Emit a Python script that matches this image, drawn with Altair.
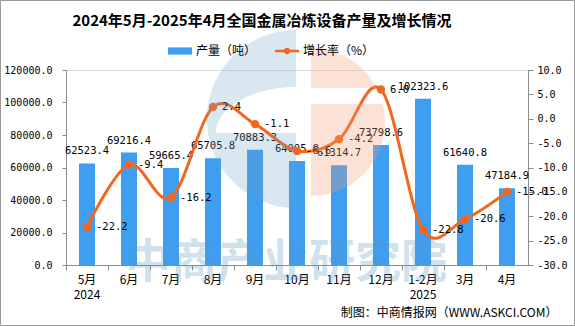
import altair as alt
import pandas as pd

categories = ["5月", "6月", "7月", "8月", "9月", "10月", "11月", "12月", "1-2月", "3月", "4月"]
production = [62523.4, 69216.4, 59665.4, 65705.8, 70883.3, 64005.9, 61314.7, 73798.6, 102323.6, 61640.8, 47184.9]
growth = [-22.2, -9.4, -16.2, 2.4, -1.1, -6.6, -4.2, 6.0, -22.8, -20.6, -15.0]

df = pd.DataFrame({
    "cat": categories,
    "prod": production,
    "rate": growth,
    "prod_label": [f"{v:.1f}" for v in production],
    "rate_label": [f"{v:.1f}" for v in growth],
    "s1": "产量（吨）",
    "s2": "增长率（%）",
})
deco = pd.DataFrame({"k": [0]})

BLUE = "#3f9ef0"
ORANGE = "#f4661f"
GRAY = "#8c8c8c"
MONO = "DejaVu Sans Mono"
CJK = "Noto Sans CJK SC"

W, H = 462, 195
PL, PT = 66, 70

x_enc = alt.X(
    "cat:N", sort=categories,
    scale=alt.Scale(paddingInner=0, paddingOuter=0),
    axis=alt.Axis(
        title="制图：中商情报网（WWW.ASKCI.COM）",
        titleFont=CJK, titleFontSize=12, titleFontWeight="normal", titleColor="#000",
        titleAnchor="end", titleAlign="right", titleX=491, titleY=47, titleBaseline="middle",
        labelAngle=0, labelFont=CJK, labelFontSize=12, labelColor="#000",
        labelExpr="datum.label == '5月' ? ['5月', '2024'] : datum.label == '1-2月' ? ['1-2月', '2025'] : datum.label",
        labelPadding=4, labelLineHeight=15,
        bandPosition=0, tickSize=5, tickColor=GRAY, domainColor=GRAY,
    ),
)

y_left = alt.Y(
    "prod:Q",
    scale=alt.Scale(domain=[0, 120000], nice=False),
    axis=alt.Axis(
        title=None, values=list(range(0, 120001, 20000)),
        labelExpr="format(datum.value, '.1f')",
        labelFont=MONO, labelFontSize=10, labelColor="#000", labelPadding=10,
        tickSize=4, tickColor=GRAY, domainColor=GRAY, grid=False,
    ),
)

y_right = alt.Y(
    "rate:Q",
    scale=alt.Scale(domain=[-30, 10], nice=False),
    axis=alt.Axis(
        title=None, orient="right", values=list(range(-30, 11, 5)),
        labelExpr="(datum.value < 0 ? '-' : '') + format(abs(datum.value), '.1f')",
        labelFont=MONO, labelFontSize=10, labelColor="#000", labelPadding=4,
        tickSize=5, tickColor=GRAY, domainColor=GRAY, grid=False,
    ),
)

bar_sym = "M-1,-0.3H1V0.3H-1Z"
line_sym = ("M-1,-0.1H1V0.1H-1Z M0.27,0 A0.27,0.27 0 1,1 -0.27,0 "
            "A0.27,0.27 0 1,1 0.27,0Z")

bars = alt.Chart(df).mark_bar(size=16).encode(
    x=x_enc, y=y_left,
    fill=alt.Fill("s1:N", scale=alt.Scale(range=[BLUE]),
                  legend=alt.Legend(title=None, orient="none", legendX=102, legendY=-31,
                                    symbolType=bar_sym, symbolSize=576, symbolStrokeWidth=0,
                                    labelFont=CJK, labelFontSize=12, labelColor="#000",
                                    labelOffset=4)),
)
bar_text = alt.Chart(df).mark_text(font=MONO, fontSize=10.5, color="#000", dy=-9, baseline="alphabetic").encode(
    x=x_enc, y=y_left, text="prod_label:N",
)

line = alt.Chart(df).mark_line(interpolate="cardinal", strokeWidth=3).encode(
    x=x_enc, y=y_right,
    stroke=alt.Stroke("s2:N", scale=alt.Scale(range=[ORANGE]),
                      legend=alt.Legend(title=None, orient="none", legendX=209, legendY=-31,
                                        symbolType=line_sym, symbolSize=576, symbolStrokeWidth=0,
                                        symbolFillColor=ORANGE,
                                        labelFont=CJK, labelFontSize=12, labelColor="#000",
                                        labelOffset=4)),
)
points = alt.Chart(df).mark_circle(size=70, color=ORANGE, opacity=1).encode(x=x_enc, y=y_right)
rate_text = alt.Chart(df).mark_text(font=MONO, fontSize=10.5, color="#000", align="left", dx=9, baseline="middle").encode(
    x=x_enc, y=y_right, text="rate_label:N",
)

# title and decorations (single-row data)
title = alt.Chart(deco).mark_text(
    text="2024年5月-2025年4月全国金属冶炼设备产量及增长情况",
    font=CJK, fontSize=15, fontWeight="bold", color="#000", align="center", baseline="middle",
).encode(x=alt.value(262 - PL), y=alt.value(21 - PT))

logo_blue = ("M-7,-89 A89,89 0 0,0 -7,89 L-7,14 L-87,14 "
             "C-87,-11.4 -51.2,-32 -7,-32 Z")
logo_orange = ("M8,-71 A74,74 0 0,1 73.7,-31 L8,-31 Z "
               "M8,-15 L79.8,-15 A74,74 0 0,1 8,77 Z")
wm_blue = alt.Chart(deco).mark_point(shape=logo_blue, size=4, filled=True, fill="#69a2c6",
                                     strokeWidth=0, fillOpacity=0.26).encode(
    x=alt.value(303 - PL), y=alt.value(119 - PT))
wm_orange = alt.Chart(deco).mark_point(shape=logo_orange, size=4, filled=True, fill="#f29b76",
                                       strokeWidth=0, fillOpacity=0.3).encode(
    x=alt.value(303 - PL), y=alt.value(119 - PT))
watermark = alt.Chart(deco).mark_text(
    text="中商产业研究院", font=CJK, fontSize=46, fontWeight="bold", color="#5b97c4",
    fillOpacity=0.3,
).encode(x=alt.value(220), y=alt.value(193))

border = alt.Chart(deco).mark_rect(fill=None, stroke="#999", strokeWidth=1).encode(
    x=alt.value(-PL + 0.5), x2=alt.value(575 - PL - 0.5),
    y=alt.value(-PT + 0.5), y2=alt.value(326 - PT - 0.5),
)

left = alt.layer(bars, bar_text)
right = alt.layer(line, points, rate_text)

chart = alt.layer(left, right, wm_blue, wm_orange, watermark, title, border).resolve_scale(y="independent").properties(
    width=W, height=H,
    autosize=alt.AutoSizeParams(type="none"),
    padding={"left": PL, "top": PT, "right": 575 - PL - W, "bottom": 326 - PT - H},
).configure_view(stroke=None).configure(background="white")

chart.save("out.html", embed_options={"renderer": "svg", "actions": False})
